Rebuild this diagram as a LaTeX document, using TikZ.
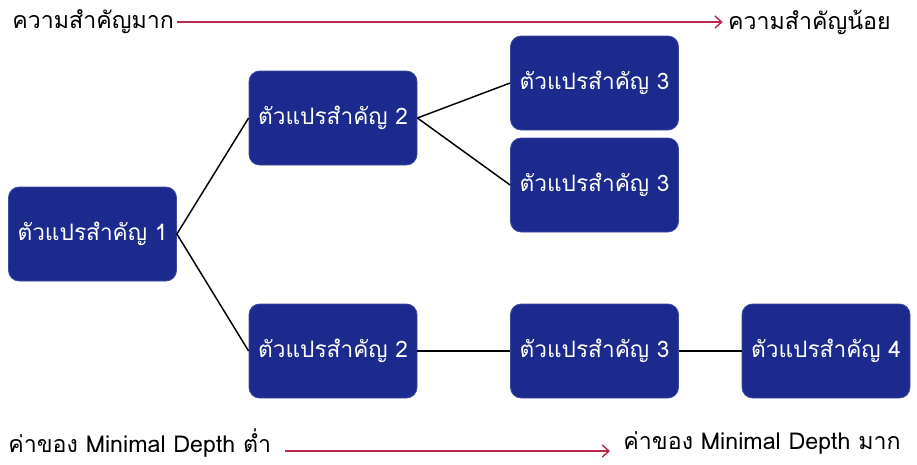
\documentclass[tikz,border=0pt]{standalone}
\usepackage{fontspec}
\newfontfamily\thaifont[Script=Thai]{Loma}
\usetikzlibrary{arrows.meta}
\definecolor{boxblue}{HTML}{1B2A8C}
\definecolor{boxedge}{HTML}{3A4AA0}
\definecolor{arrred}{HTML}{B8284A}
\begin{document}
\begin{tikzpicture}[x=0.75pt,y=-0.75pt,
  vbox/.style={rectangle,rounded corners=8pt,fill=boxblue,draw=boxedge,line width=0.6pt,
    minimum width=168*0.75pt,minimum height=94*0.75pt,text=white,font=\thaifont\fontsize{17}{20}\selectfont,inner sep=0pt},
  lbl/.style={font=\thaifont\fontsize{17.4}{20}\selectfont,text=black,inner sep=0pt},
  link/.style={draw=black,line width=1.1pt},
  scalearrow/.style={draw=arrred,line width=1.1pt,-{Straight Barb[length=5pt,width=9pt]}}]
\useasboundingbox (0,0) rectangle (917,464);
\node[vbox] (v1) at (92.5,234) {ตัวแปรสำคัญ 1};
\node[vbox] (v2a) at (333,118) {ตัวแปรสำคัญ 2};
\node[vbox] (v3a) at (594.5,83) {ตัวแปรสำคัญ 3};
\node[vbox] (v3b) at (594.5,185) {ตัวแปรสำคัญ 3};
\node[vbox] (v2b) at (333,351) {ตัวแปรสำคัญ 2};
\node[vbox] (v3c) at (594.5,351) {ตัวแปรสำคัญ 3};
\node[vbox] (v4) at (826,351) {ตัวแปรสำคัญ 4};
\draw[link] (v1.east) -- (v2a.west);
\draw[link] (v1.east) -- (v2b.west);
\draw[link] (v2a.east) -- (v3a.west);
\draw[link] (v2a.east) -- (v3b.west);
\draw[link] (v2b.east) -- (v3c.west);
\draw[link] (v3c.east) -- (v4.west);
\node[lbl,anchor=west] (t1) at (12,22) {ความสำคัญมาก};
\node[lbl,anchor=east] (t2) at (891,22) {ความสำคัญน้อย};
\path (t1.east) ++(3,0) coordinate (a1) (t2.west) ++(-5,0) coordinate (a2);
\draw[scalearrow] (a1) -- (a2);
\node[lbl,anchor=west] (b1) at (8,443) {ค่าของ Minimal Depth ต่ำ};
\node[lbl,anchor=east] (b2) at (901,443) {ค่าของ Minimal Depth มาก};
\coordinate (c1) at (285,451);
\coordinate (c2) at (610,451);
\draw[scalearrow] (c1) -- (c2);
\end{tikzpicture}
\end{document}
